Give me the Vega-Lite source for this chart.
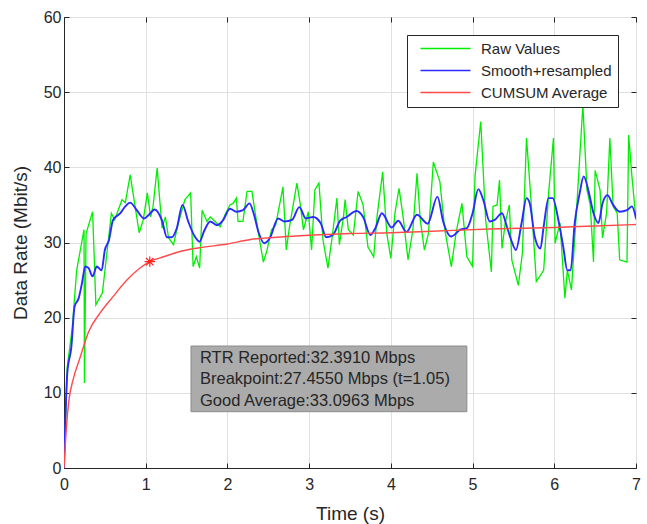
{
  "$schema": "https://vega.github.io/schema/vega-lite/v6.json",
  "width": 572,
  "height": 451,
  "autosize": "none",
  "padding": {"left": 64, "top": 17, "right": 11, "bottom": 56},
  "background": "white",
  "config": {
    "font": "Liberation Sans",
    "view": {"stroke": "#262626", "strokeWidth": 1},
    "axis": {
      "labelFont": "Liberation Sans",
      "titleFont": "Liberation Sans",
      "labelColor": "#262626",
      "titleColor": "#262626",
      "domainColor": "#262626",
      "tickColor": "#262626",
      "labelFontSize": 16,
      "titleFontSize": 19,
      "titleFontWeight": "normal",
      "gridColor": "#e0e0e0",
      "gridOpacity": 1
    }
  },
  "datasets": {
    "lines": [
      {"s": "Raw Values", "t": 0, "v": 0},
      {"s": "Raw Values", "t": 0.04, "v": 13.5},
      {"s": "Raw Values", "t": 0.1, "v": 18.5},
      {"s": "Raw Values", "t": 0.155, "v": 26.3},
      {"s": "Raw Values", "t": 0.245, "v": 31.7},
      {"s": "Raw Values", "t": 0.25, "v": 11.3},
      {"s": "Raw Values", "t": 0.27, "v": 31.2},
      {"s": "Raw Values", "t": 0.35, "v": 34.1},
      {"s": "Raw Values", "t": 0.39, "v": 21.7},
      {"s": "Raw Values", "t": 0.47, "v": 23.3},
      {"s": "Raw Values", "t": 0.58, "v": 33.9},
      {"s": "Raw Values", "t": 0.62, "v": 33},
      {"s": "Raw Values", "t": 0.71, "v": 35.7},
      {"s": "Raw Values", "t": 0.75, "v": 35.3},
      {"s": "Raw Values", "t": 0.81, "v": 39},
      {"s": "Raw Values", "t": 0.87, "v": 34.8},
      {"s": "Raw Values", "t": 0.92, "v": 31.3},
      {"s": "Raw Values", "t": 0.97, "v": 33},
      {"s": "Raw Values", "t": 1.02, "v": 36.6},
      {"s": "Raw Values", "t": 1.06, "v": 33.4},
      {"s": "Raw Values", "t": 1.09, "v": 34.8},
      {"s": "Raw Values", "t": 1.14, "v": 39.9},
      {"s": "Raw Values", "t": 1.2, "v": 31.9},
      {"s": "Raw Values", "t": 1.24, "v": 33.4},
      {"s": "Raw Values", "t": 1.28, "v": 30.6},
      {"s": "Raw Values", "t": 1.34, "v": 29.7},
      {"s": "Raw Values", "t": 1.4, "v": 32.6},
      {"s": "Raw Values", "t": 1.48, "v": 35.7},
      {"s": "Raw Values", "t": 1.55, "v": 36.6},
      {"s": "Raw Values", "t": 1.58, "v": 26.8},
      {"s": "Raw Values", "t": 1.62, "v": 28.1},
      {"s": "Raw Values", "t": 1.66, "v": 26.6},
      {"s": "Raw Values", "t": 1.69, "v": 34.3},
      {"s": "Raw Values", "t": 1.75, "v": 32.8},
      {"s": "Raw Values", "t": 1.79, "v": 33.4},
      {"s": "Raw Values", "t": 1.85, "v": 32.8},
      {"s": "Raw Values", "t": 1.91, "v": 32.1},
      {"s": "Raw Values", "t": 1.97, "v": 33.7},
      {"s": "Raw Values", "t": 2.03, "v": 35},
      {"s": "Raw Values", "t": 2.07, "v": 35.2},
      {"s": "Raw Values", "t": 2.11, "v": 35.9},
      {"s": "Raw Values", "t": 2.13, "v": 32.8},
      {"s": "Raw Values", "t": 2.19, "v": 32.8},
      {"s": "Raw Values", "t": 2.24, "v": 36.8},
      {"s": "Raw Values", "t": 2.3, "v": 36.8},
      {"s": "Raw Values", "t": 2.34, "v": 33.9},
      {"s": "Raw Values", "t": 2.4, "v": 29.9},
      {"s": "Raw Values", "t": 2.44, "v": 27.4},
      {"s": "Raw Values", "t": 2.48, "v": 28.8},
      {"s": "Raw Values", "t": 2.54, "v": 31.7},
      {"s": "Raw Values", "t": 2.59, "v": 32.3},
      {"s": "Raw Values", "t": 2.68, "v": 37.4},
      {"s": "Raw Values", "t": 2.72, "v": 29},
      {"s": "Raw Values", "t": 2.76, "v": 32.1},
      {"s": "Raw Values", "t": 2.85, "v": 37.9},
      {"s": "Raw Values", "t": 2.89, "v": 35.2},
      {"s": "Raw Values", "t": 2.93, "v": 31.7},
      {"s": "Raw Values", "t": 2.99, "v": 34.1},
      {"s": "Raw Values", "t": 3.03, "v": 29},
      {"s": "Raw Values", "t": 3.07, "v": 37},
      {"s": "Raw Values", "t": 3.12, "v": 37.9},
      {"s": "Raw Values", "t": 3.17, "v": 30.3},
      {"s": "Raw Values", "t": 3.23, "v": 26.6},
      {"s": "Raw Values", "t": 3.28, "v": 30.6},
      {"s": "Raw Values", "t": 3.34, "v": 35.9},
      {"s": "Raw Values", "t": 3.37, "v": 29.7},
      {"s": "Raw Values", "t": 3.42, "v": 33.4},
      {"s": "Raw Values", "t": 3.44, "v": 35.7},
      {"s": "Raw Values", "t": 3.48, "v": 31.7},
      {"s": "Raw Values", "t": 3.54, "v": 31},
      {"s": "Raw Values", "t": 3.6, "v": 36.8},
      {"s": "Raw Values", "t": 3.66, "v": 35},
      {"s": "Raw Values", "t": 3.72, "v": 29.4},
      {"s": "Raw Values", "t": 3.79, "v": 28.1},
      {"s": "Raw Values", "t": 3.83, "v": 33.4},
      {"s": "Raw Values", "t": 3.9, "v": 39.4},
      {"s": "Raw Values", "t": 3.95, "v": 31.2},
      {"s": "Raw Values", "t": 4.0, "v": 27.9},
      {"s": "Raw Values", "t": 4.05, "v": 33.9},
      {"s": "Raw Values", "t": 4.1, "v": 37.2},
      {"s": "Raw Values", "t": 4.15, "v": 33.4},
      {"s": "Raw Values", "t": 4.21, "v": 27.7},
      {"s": "Raw Values", "t": 4.27, "v": 31.7},
      {"s": "Raw Values", "t": 4.32, "v": 39.2},
      {"s": "Raw Values", "t": 4.36, "v": 33},
      {"s": "Raw Values", "t": 4.41, "v": 29},
      {"s": "Raw Values", "t": 4.46, "v": 31.2},
      {"s": "Raw Values", "t": 4.52, "v": 40.7},
      {"s": "Raw Values", "t": 4.6, "v": 38.1},
      {"s": "Raw Values", "t": 4.66, "v": 31.7},
      {"s": "Raw Values", "t": 4.74, "v": 26.8},
      {"s": "Raw Values", "t": 4.8, "v": 31.4},
      {"s": "Raw Values", "t": 4.87, "v": 35.2},
      {"s": "Raw Values", "t": 4.93, "v": 28.1},
      {"s": "Raw Values", "t": 5.0, "v": 26.8},
      {"s": "Raw Values", "t": 5.03, "v": 38.8},
      {"s": "Raw Values", "t": 5.1, "v": 46.1},
      {"s": "Raw Values", "t": 5.16, "v": 33},
      {"s": "Raw Values", "t": 5.23, "v": 26.1},
      {"s": "Raw Values", "t": 5.25, "v": 34.8},
      {"s": "Raw Values", "t": 5.3, "v": 35},
      {"s": "Raw Values", "t": 5.33, "v": 38.3},
      {"s": "Raw Values", "t": 5.36, "v": 29.2},
      {"s": "Raw Values", "t": 5.4, "v": 32.6},
      {"s": "Raw Values", "t": 5.45, "v": 35},
      {"s": "Raw Values", "t": 5.48, "v": 27.7},
      {"s": "Raw Values", "t": 5.56, "v": 24.3},
      {"s": "Raw Values", "t": 5.61, "v": 28.6},
      {"s": "Raw Values", "t": 5.66, "v": 43.9},
      {"s": "Raw Values", "t": 5.7, "v": 37.9},
      {"s": "Raw Values", "t": 5.74, "v": 31.7},
      {"s": "Raw Values", "t": 5.78, "v": 24.8},
      {"s": "Raw Values", "t": 5.87, "v": 26.3},
      {"s": "Raw Values", "t": 5.93, "v": 36.5},
      {"s": "Raw Values", "t": 5.99, "v": 43.9},
      {"s": "Raw Values", "t": 6.01, "v": 29.9},
      {"s": "Raw Values", "t": 6.07, "v": 32.6},
      {"s": "Raw Values", "t": 6.13, "v": 22.6},
      {"s": "Raw Values", "t": 6.16, "v": 26.3},
      {"s": "Raw Values", "t": 6.21, "v": 23.7},
      {"s": "Raw Values", "t": 6.27, "v": 33.9},
      {"s": "Raw Values", "t": 6.35, "v": 48.3},
      {"s": "Raw Values", "t": 6.4, "v": 37},
      {"s": "Raw Values", "t": 6.44, "v": 35},
      {"s": "Raw Values", "t": 6.48, "v": 27.4},
      {"s": "Raw Values", "t": 6.5, "v": 39.6},
      {"s": "Raw Values", "t": 6.56, "v": 37},
      {"s": "Raw Values", "t": 6.59, "v": 30.6},
      {"s": "Raw Values", "t": 6.64, "v": 33.9},
      {"s": "Raw Values", "t": 6.68, "v": 43.9},
      {"s": "Raw Values", "t": 6.72, "v": 34.8},
      {"s": "Raw Values", "t": 6.77, "v": 33.9},
      {"s": "Raw Values", "t": 6.8, "v": 27.7},
      {"s": "Raw Values", "t": 6.89, "v": 27.4},
      {"s": "Raw Values", "t": 6.91, "v": 44.3},
      {"s": "Raw Values", "t": 6.95, "v": 38.8},
      {"s": "Raw Values", "t": 7.0, "v": 33},
      {"s": "Smooth+resampled", "t": 0, "v": 0},
      {"s": "Smooth+resampled", "t": 0.04, "v": 12.6},
      {"s": "Smooth+resampled", "t": 0.09, "v": 16.1},
      {"s": "Smooth+resampled", "t": 0.13, "v": 21.5},
      {"s": "Smooth+resampled", "t": 0.18, "v": 22.6},
      {"s": "Smooth+resampled", "t": 0.22, "v": 24.6},
      {"s": "Smooth+resampled", "t": 0.26, "v": 26.8},
      {"s": "Smooth+resampled", "t": 0.3, "v": 26.6},
      {"s": "Smooth+resampled", "t": 0.35, "v": 25.5},
      {"s": "Smooth+resampled", "t": 0.4, "v": 26.8},
      {"s": "Smooth+resampled", "t": 0.46, "v": 26.3},
      {"s": "Smooth+resampled", "t": 0.5, "v": 29},
      {"s": "Smooth+resampled", "t": 0.55, "v": 30.3},
      {"s": "Smooth+resampled", "t": 0.6, "v": 33},
      {"s": "Smooth+resampled", "t": 0.69, "v": 33.9},
      {"s": "Smooth+resampled", "t": 0.75, "v": 34.8},
      {"s": "Smooth+resampled", "t": 0.81, "v": 35.3},
      {"s": "Smooth+resampled", "t": 0.89, "v": 34.3},
      {"s": "Smooth+resampled", "t": 0.98, "v": 33.2},
      {"s": "Smooth+resampled", "t": 1.04, "v": 33.7},
      {"s": "Smooth+resampled", "t": 1.11, "v": 34.4},
      {"s": "Smooth+resampled", "t": 1.2, "v": 32.9},
      {"s": "Smooth+resampled", "t": 1.26, "v": 30.7},
      {"s": "Smooth+resampled", "t": 1.32, "v": 30.7},
      {"s": "Smooth+resampled", "t": 1.38, "v": 31.9},
      {"s": "Smooth+resampled", "t": 1.45, "v": 35},
      {"s": "Smooth+resampled", "t": 1.52, "v": 32.8},
      {"s": "Smooth+resampled", "t": 1.6, "v": 30.8},
      {"s": "Smooth+resampled", "t": 1.66, "v": 30.1},
      {"s": "Smooth+resampled", "t": 1.71, "v": 31.4},
      {"s": "Smooth+resampled", "t": 1.79, "v": 32.8},
      {"s": "Smooth+resampled", "t": 1.87, "v": 32.3},
      {"s": "Smooth+resampled", "t": 1.95, "v": 33},
      {"s": "Smooth+resampled", "t": 2.03, "v": 34.5},
      {"s": "Smooth+resampled", "t": 2.11, "v": 34.1},
      {"s": "Smooth+resampled", "t": 2.19, "v": 34.3},
      {"s": "Smooth+resampled", "t": 2.27, "v": 35.2},
      {"s": "Smooth+resampled", "t": 2.32, "v": 33.9},
      {"s": "Smooth+resampled", "t": 2.38, "v": 31.4},
      {"s": "Smooth+resampled", "t": 2.45, "v": 29.9},
      {"s": "Smooth+resampled", "t": 2.52, "v": 30.6},
      {"s": "Smooth+resampled", "t": 2.62, "v": 33.2},
      {"s": "Smooth+resampled", "t": 2.7, "v": 32.8},
      {"s": "Smooth+resampled", "t": 2.79, "v": 33},
      {"s": "Smooth+resampled", "t": 2.88, "v": 34.7},
      {"s": "Smooth+resampled", "t": 2.96, "v": 33.2},
      {"s": "Smooth+resampled", "t": 3.05, "v": 33.4},
      {"s": "Smooth+resampled", "t": 3.14, "v": 32.6},
      {"s": "Smooth+resampled", "t": 3.21, "v": 30.7},
      {"s": "Smooth+resampled", "t": 3.29, "v": 31},
      {"s": "Smooth+resampled", "t": 3.38, "v": 32.9},
      {"s": "Smooth+resampled", "t": 3.46, "v": 33.4},
      {"s": "Smooth+resampled", "t": 3.58, "v": 34.2},
      {"s": "Smooth+resampled", "t": 3.66, "v": 33.4},
      {"s": "Smooth+resampled", "t": 3.75, "v": 31},
      {"s": "Smooth+resampled", "t": 3.81, "v": 31.9},
      {"s": "Smooth+resampled", "t": 3.89, "v": 33.9},
      {"s": "Smooth+resampled", "t": 4.01, "v": 32},
      {"s": "Smooth+resampled", "t": 4.09, "v": 32.9},
      {"s": "Smooth+resampled", "t": 4.19, "v": 31.4},
      {"s": "Smooth+resampled", "t": 4.32, "v": 33.7},
      {"s": "Smooth+resampled", "t": 4.45, "v": 32.5},
      {"s": "Smooth+resampled", "t": 4.57, "v": 36.1},
      {"s": "Smooth+resampled", "t": 4.64, "v": 32.8},
      {"s": "Smooth+resampled", "t": 4.74, "v": 30.8},
      {"s": "Smooth+resampled", "t": 4.85, "v": 31.7},
      {"s": "Smooth+resampled", "t": 4.93, "v": 31.9},
      {"s": "Smooth+resampled", "t": 5.0, "v": 33.9},
      {"s": "Smooth+resampled", "t": 5.07, "v": 37.1},
      {"s": "Smooth+resampled", "t": 5.13, "v": 35.7},
      {"s": "Smooth+resampled", "t": 5.21, "v": 32.8},
      {"s": "Smooth+resampled", "t": 5.27, "v": 33},
      {"s": "Smooth+resampled", "t": 5.36, "v": 33.9},
      {"s": "Smooth+resampled", "t": 5.42, "v": 32.1},
      {"s": "Smooth+resampled", "t": 5.48, "v": 30.1},
      {"s": "Smooth+resampled", "t": 5.53, "v": 29},
      {"s": "Smooth+resampled", "t": 5.6, "v": 32.6},
      {"s": "Smooth+resampled", "t": 5.66, "v": 35.9},
      {"s": "Smooth+resampled", "t": 5.7, "v": 35.2},
      {"s": "Smooth+resampled", "t": 5.76, "v": 30.8},
      {"s": "Smooth+resampled", "t": 5.83, "v": 29.2},
      {"s": "Smooth+resampled", "t": 5.87, "v": 32.1},
      {"s": "Smooth+resampled", "t": 5.93, "v": 35.9},
      {"s": "Smooth+resampled", "t": 5.98, "v": 35.9},
      {"s": "Smooth+resampled", "t": 6.05, "v": 33},
      {"s": "Smooth+resampled", "t": 6.11, "v": 29.4},
      {"s": "Smooth+resampled", "t": 6.16, "v": 26.3},
      {"s": "Smooth+resampled", "t": 6.2, "v": 26.3},
      {"s": "Smooth+resampled", "t": 6.25, "v": 32.6},
      {"s": "Smooth+resampled", "t": 6.31, "v": 36.5},
      {"s": "Smooth+resampled", "t": 6.36, "v": 38.8},
      {"s": "Smooth+resampled", "t": 6.42, "v": 36.8},
      {"s": "Smooth+resampled", "t": 6.48, "v": 33.9},
      {"s": "Smooth+resampled", "t": 6.54, "v": 32.6},
      {"s": "Smooth+resampled", "t": 6.59, "v": 35.2},
      {"s": "Smooth+resampled", "t": 6.65, "v": 36.3},
      {"s": "Smooth+resampled", "t": 6.72, "v": 35},
      {"s": "Smooth+resampled", "t": 6.8, "v": 34.1},
      {"s": "Smooth+resampled", "t": 6.89, "v": 34.3},
      {"s": "Smooth+resampled", "t": 6.95, "v": 34.8},
      {"s": "Smooth+resampled", "t": 7.0, "v": 33.2},
      {"s": "CUMSUM Average", "t": 0, "v": 0},
      {"s": "CUMSUM Average", "t": 0.03, "v": 5.5},
      {"s": "CUMSUM Average", "t": 0.06, "v": 9},
      {"s": "CUMSUM Average", "t": 0.11, "v": 11.7},
      {"s": "CUMSUM Average", "t": 0.2, "v": 14.8},
      {"s": "CUMSUM Average", "t": 0.3, "v": 18.1},
      {"s": "CUMSUM Average", "t": 0.44, "v": 20.6},
      {"s": "CUMSUM Average", "t": 0.6, "v": 22.8},
      {"s": "CUMSUM Average", "t": 0.77, "v": 25},
      {"s": "CUMSUM Average", "t": 0.93, "v": 26.6},
      {"s": "CUMSUM Average", "t": 1.05, "v": 27.455},
      {"s": "CUMSUM Average", "t": 1.22, "v": 28.1},
      {"s": "CUMSUM Average", "t": 1.42, "v": 28.8},
      {"s": "CUMSUM Average", "t": 1.66, "v": 29.3},
      {"s": "CUMSUM Average", "t": 2.0, "v": 29.8},
      {"s": "CUMSUM Average", "t": 2.28, "v": 30.4},
      {"s": "CUMSUM Average", "t": 2.6, "v": 30.7},
      {"s": "CUMSUM Average", "t": 2.89, "v": 30.9},
      {"s": "CUMSUM Average", "t": 3.5, "v": 31.2},
      {"s": "CUMSUM Average", "t": 4.0, "v": 31.3},
      {"s": "CUMSUM Average", "t": 4.5, "v": 31.5},
      {"s": "CUMSUM Average", "t": 5.21, "v": 31.8},
      {"s": "CUMSUM Average", "t": 6.0, "v": 32.0},
      {"s": "CUMSUM Average", "t": 6.5, "v": 32.2},
      {"s": "CUMSUM Average", "t": 7.0, "v": 32.39}
    ],
    "breakpoint": [{"t": 1.05, "v": 27.455}],
    "box": [{"x1": 1.554, "x2": 4.93, "y1": 7.49, "y2": 16.23}],
    "notes": [
      {"t": 1.664, "v": 14.6, "label": "RTR Reported:32.3910 Mbps"},
      {"t": 1.664, "v": 11.8, "label": "Breakpoint:27.4550 Mbps (t=1.05)"},
      {"t": 1.664, "v": 8.9, "label": "Good Average:33.0963 Mbps"}
    ]
  },
  "resolve": {"axis": {"x": "independent", "y": "independent"}},
  "layer": [
    {
      "data": {"name": "lines"},
      "transform": [{"filter": "datum.s === 'Raw Values'"}],
      "mark": {"type": "line", "strokeWidth": 1.3, "clip": true},
      "encoding": {
        "x": {"field": "t", "type": "quantitative", "scale": {"domain": [0, 7], "nice": false},
              "axis": {"title": "Time (s)", "values": [0,1,2,3,4,5,6,7], "tickSize": -5, "labelPadding": 13, "titlePadding": 12, "grid": true, "labelFlush": false}},
        "y": {"field": "v", "type": "quantitative", "scale": {"domain": [0, 60], "nice": false},
              "axis": {"title": "Data Rate (Mbit/s)", "values": [0,10,20,30,40,50,60], "tickSize": -5, "labelPadding": 8, "titlePadding": 13, "grid": true, "labelFlush": false}},
        "color": {"field": "s", "type": "nominal",
                  "scale": {"domain": ["Raw Values", "Smooth+resampled", "CUMSUM Average"], "range": ["#00ee00", "#2a2aff", "#ff4a4a"]},
                  "legend": {"orient": "none", "legendX": 343, "legendY": 18, "title": null,
                             "fillColor": "white", "strokeColor": "#262626", "padding": 6,
                             "symbolType": "M0,0L10,0", "symbolSize": 100, "symbolStrokeWidth": 1.5,
                             "labelOffset": 53, "labelFontSize": 15, "labelColor": "#262626", "labelFont": "Liberation Sans",
                             "rowPadding": 6, "cornerRadius": 0}},
        "order": {"field": "t", "type": "quantitative"}
      }
    },
    {
      "data": {"name": "lines"},
      "transform": [{"filter": "datum.s === 'Smooth+resampled'"}],
      "mark": {"type": "line", "strokeWidth": 1.9, "interpolate": "monotone", "clip": true},
      "encoding": {
        "x": {"field": "t", "type": "quantitative", "axis": null},
        "y": {"field": "v", "type": "quantitative", "axis": null},
        "color": {"field": "s", "type": "nominal"},
        "order": {"field": "t", "type": "quantitative"}
      }
    },
    {
      "data": {"name": "lines"},
      "transform": [{"filter": "datum.s === 'CUMSUM Average'"}],
      "mark": {"type": "line", "strokeWidth": 1.4, "interpolate": "monotone", "clip": true},
      "encoding": {
        "x": {"field": "t", "type": "quantitative", "axis": null},
        "y": {"field": "v", "type": "quantitative", "axis": null},
        "color": {"field": "s", "type": "nominal"},
        "order": {"field": "t", "type": "quantitative"}
      }
    },
    {
      "data": {"name": "breakpoint"},
      "mark": {"type": "point", "shape": "M-1,0L1,0M0,-1L0,1M-0.7,-0.7L0.7,0.7M-0.7,0.7L0.7,-0.7", "size": 110, "filled": false, "stroke": "#ff2020", "strokeWidth": 1.2, "opacity": 1},
      "encoding": {
        "x": {"field": "t", "type": "quantitative", "axis": {"orient": "top", "labels": false, "title": null, "grid": false, "domain": false, "tickSize": -5, "values": [0,1,2,3,4,5,6,7]}},
        "y": {"field": "v", "type": "quantitative", "axis": {"orient": "right", "labels": false, "title": null, "grid": false, "domain": false, "tickSize": -5, "values": [0,10,20,30,40,50,60]}}
      }
    },
    {
      "data": {"name": "box"},
      "mark": {"type": "rect", "fill": "#ababab", "stroke": "#8c8c8c", "strokeWidth": 1},
      "encoding": {
        "x": {"field": "x1", "type": "quantitative", "axis": null},
        "x2": {"field": "x2"},
        "y": {"field": "y1", "type": "quantitative", "axis": null},
        "y2": {"field": "y2"}
      }
    },
    {
      "data": {"name": "notes"},
      "mark": {"type": "text", "align": "left", "baseline": "middle", "fontSize": 16.5, "font": "Liberation Sans", "color": "#262626"},
      "encoding": {
        "x": {"field": "t", "type": "quantitative", "axis": null},
        "y": {"field": "v", "type": "quantitative", "axis": null},
        "text": {"field": "label"}
      }
    }
  ]
}
